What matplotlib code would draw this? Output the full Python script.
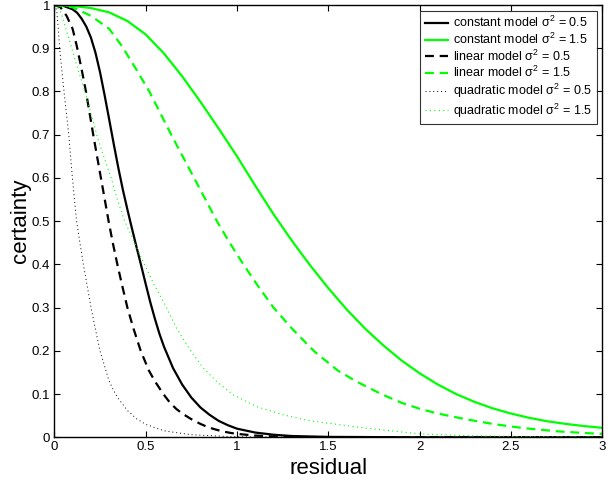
import matplotlib
matplotlib.use("Agg")
import matplotlib.pyplot as plt
from matplotlib.ticker import FixedLocator, FixedFormatter

plt.rcParams['font.family'] = ['Liberation Sans', 'DejaVu Sans']
plt.rcParams['mathtext.fontset'] = 'custom'
plt.rcParams['mathtext.rm'] = 'Liberation Sans'
plt.rcParams['mathtext.it'] = 'Liberation Sans'

# constant model
const_lo_x = [0, 0.05, 0.1, 0.125, 0.15, 0.175, 0.2, 0.225, 0.25, 0.275, 0.3, 0.325, 0.35,
              0.375, 0.4, 0.425, 0.45, 0.475, 0.5, 0.525, 0.55, 0.575, 0.6, 0.65, 0.7,
              0.75, 0.8, 0.85, 0.9, 0.95, 1.0, 1.1, 1.2, 1.3, 1.5, 2.0, 3.0]
const_lo_y = [1.0, 0.998, 0.99, 0.982, 0.968, 0.95, 0.925, 0.89, 0.845, 0.792, 0.736, 0.679,
              0.624, 0.573, 0.527, 0.483, 0.44, 0.398, 0.355, 0.313, 0.275, 0.24, 0.21,
              0.16, 0.122, 0.092, 0.069, 0.052, 0.038, 0.028, 0.02, 0.011, 0.006, 0.003,
              0.001, 0.0, 0.0]
const_hi_x = [0, 0.1, 0.2, 0.3, 0.4, 0.5, 0.6, 0.7, 0.8, 0.9, 1.0, 1.1, 1.2, 1.3, 1.4, 1.5,
              1.6, 1.7, 1.8, 1.9, 2.0, 2.1, 2.2, 2.3, 2.4, 2.5, 2.6, 2.7, 2.8, 2.9, 3.0]
const_hi_y = [1.0, 0.998, 0.993, 0.983, 0.963, 0.932, 0.888, 0.835, 0.776, 0.714, 0.650,
              0.582, 0.516, 0.455, 0.398, 0.345, 0.296, 0.252, 0.213, 0.178, 0.148, 0.122,
              0.100, 0.082, 0.067, 0.055, 0.045, 0.037, 0.031, 0.026, 0.022]

# linear model
lin_lo_x = [0, 0.033, 0.067, 0.1, 0.123, 0.15, 0.173, 0.193, 0.213, 0.233, 0.255, 0.277,
            0.297, 0.32, 0.345, 0.372, 0.40, 0.433, 0.473, 0.517, 0.55, 0.597, 0.633,
            0.667, 0.70, 0.75, 0.8, 0.833, 0.867, 0.917, 0.967, 1.0, 1.1, 1.2, 1.4, 3.0]
lin_lo_y = [1.0, 0.995, 0.975, 0.945, 0.905, 0.85, 0.8, 0.75, 0.7, 0.652, 0.6, 0.548, 0.5,
            0.45, 0.4, 0.35, 0.3, 0.252, 0.2, 0.155, 0.13, 0.1, 0.08, 0.066, 0.055, 0.042,
            0.031, 0.025, 0.02, 0.014, 0.01, 0.008, 0.004, 0.002, 0.0, 0.0]
lin_hi_x = [0, 0.1, 0.2, 0.3, 0.37, 0.45, 0.52, 0.58, 0.64, 0.70, 0.765, 0.83, 0.89, 0.96,
            1.035, 1.115, 1.2, 1.3, 1.42, 1.55, 1.65, 1.79, 1.9, 2.0, 2.1, 2.25, 2.4, 2.5,
            2.6, 2.75, 2.9, 3.0]
lin_hi_y = [1.0, 0.995, 0.975, 0.945, 0.905, 0.85, 0.8, 0.75, 0.7, 0.652, 0.6, 0.548, 0.5,
            0.45, 0.4, 0.35, 0.3, 0.252, 0.2, 0.155, 0.13, 0.1, 0.08, 0.066, 0.055, 0.042,
            0.031, 0.025, 0.02, 0.014, 0.01, 0.008]

# quadratic model
quad_lo_x = [0, 0.013, 0.022, 0.029, 0.041, 0.053, 0.066, 0.079, 0.099, 0.11, 0.122, 0.14,
             0.159, 0.18, 0.201, 0.225, 0.25, 0.275, 0.3, 0.325, 0.35, 0.4, 0.45, 0.5,
             0.6, 0.75, 1.0, 1.5, 3.0]
quad_lo_y = [1.0, 0.988, 0.943, 0.9, 0.85, 0.8, 0.75, 0.7, 0.6, 0.55, 0.5, 0.45, 0.4, 0.35,
             0.3, 0.25, 0.2, 0.165, 0.13, 0.108, 0.09, 0.062, 0.043, 0.03, 0.015, 0.006,
             0.001, 0.0, 0.0]
quad_hi_x = [0, 0.031, 0.049, 0.07, 0.095, 0.13, 0.168, 0.2, 0.232, 0.27, 0.311, 0.345,
             0.385, 0.44, 0.493, 0.55, 0.602, 0.67, 0.743, 0.816, 0.889, 0.98, 1.108,
             1.254, 1.4, 1.528, 1.711, 2.0, 2.25, 2.5, 3.0]
quad_hi_y = [1.0, 0.988, 0.966, 0.935, 0.9, 0.85, 0.8, 0.75, 0.7, 0.65, 0.6, 0.55, 0.5,
             0.45, 0.4, 0.35, 0.31, 0.252, 0.202, 0.16, 0.129, 0.098, 0.071, 0.052,
             0.038, 0.031, 0.021, 0.008, 0.004, 0.002, 0.0]

xticks = [0, 0.5, 1, 1.5, 2, 2.5, 3]
xtick_labels = ['0', '0.5', '1', '1.5', '2', '2.5', '3']
yticks = [0, 0.1, 0.2, 0.3, 0.4, 0.5, 0.6, 0.7, 0.8, 0.9, 1]
ytick_labels = ['0', '0.1', '0.2', '0.3', '0.4', '0.5', '0.6', '0.7', '0.8', '0.9', '1']

GREEN = '#00ff00'

fig = plt.figure(figsize=(6.16, 4.82), dpi=100)
ax = fig.add_axes([0.0882, 0.0927, 0.8896, 0.8969])

ax.plot(const_lo_x, const_lo_y, color='black', lw=1.6, label=r'constant model $\sigma^2$ = 0.5')
ax.plot(const_hi_x, const_hi_y, color=GREEN, lw=1.6, label=r'constant model $\sigma^2$ = 1.5')
ax.plot(lin_lo_x, lin_lo_y, color='black', lw=1.6, ls=(0, (4, 2.6)),
        label=r'linear model $\sigma^2$ = 0.5')
ax.plot(lin_hi_x, lin_hi_y, color=GREEN, lw=1.6, ls=(0, (4, 2.6)),
        label=r'linear model $\sigma^2$ = 1.5')
ax.plot(quad_lo_x, quad_lo_y, color='black', lw=0.7, ls=(0, (1, 3)),
        label=r'quadratic model $\sigma^2$ = 0.5')
ax.plot(quad_hi_x, quad_hi_y, color=GREEN, lw=0.8, ls=(0, (1, 3)),
        label=r'quadratic model $\sigma^2$ = 1.5')

ax.set_xlim(0, 3)
ax.set_ylim(0, 1)
ax.xaxis.set_major_locator(FixedLocator(xticks))
ax.xaxis.set_major_formatter(FixedFormatter(xtick_labels))
ax.yaxis.set_major_locator(FixedLocator(yticks))
ax.yaxis.set_major_formatter(FixedFormatter(ytick_labels))
ax.tick_params(direction='in', length=4, width=0.8, top=True, right=True,
               labelsize=9.5, pad=3, colors='black')
for s in ax.spines.values():
    s.set_linewidth(1.0)

ax.set_xlabel('residual', fontsize=16, labelpad=3)
ax.set_ylabel('certainty', fontsize=16, labelpad=0.5)

leg = ax.legend(loc='upper right', fontsize=9.0, frameon=True, fancybox=False,
                edgecolor='black', handlelength=1.9, handletextpad=0.4,
                labelspacing=0.12, borderpad=0.35, borderaxespad=0.45)
leg.get_frame().set_linewidth(0.8)

fig.savefig('out.png', dpi=100)
